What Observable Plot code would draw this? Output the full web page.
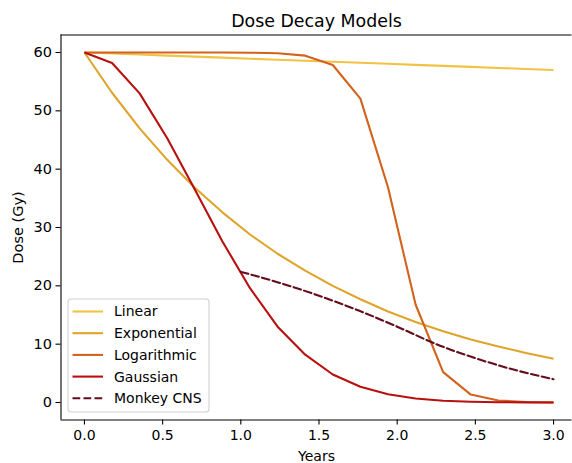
<!DOCTYPE html>
<html>
<head>
<meta charset="utf-8">
<script src="https://cdn.jsdelivr.net/npm/d3@7"></script>
<script src="https://cdn.jsdelivr.net/npm/@observablehq/plot@0.6"></script>
<style>
  body { margin: 0; background: #fff; }
  #chart svg { display: block; }
</style>
</head>
<body>
<div id="chart"></div>
<script>
// ---- data ----
const title = "Dose Decay Models";
const xLabel = "Years";
const yLabel = "Dose (Gy)";
const seriesNames = ["Linear", "Exponential", "Logarithmic", "Gaussian", "Monkey CNS"];
const seriesColors = ["#f2c244", "#dfa42a", "#d2621c", "#b80f0f", "#650c1c"];
const xTicks = [0, 0.5, 1.0, 1.5, 2.0, 2.5, 3.0];
const yTicks = [0, 10, 20, 30, 40, 50, 60];

const years = [0, 0.1765, 0.3529, 0.5294, 0.7059, 0.8824, 1.0588, 1.2353, 1.4118,
  1.5882, 1.7647, 1.9412, 2.1176, 2.2941, 2.4706, 2.6471, 2.8235, 3.0];
const linearDose = [60, 59.82, 59.65, 59.47, 59.29, 59.12, 58.94, 58.76, 58.59,
  58.41, 58.24, 58.06, 57.88, 57.71, 57.53, 57.35, 57.18, 57.0];
const exponentialDose = [60, 53.1, 47.0, 41.6, 36.8, 32.6, 28.8, 25.5, 22.6,
  20.0, 17.7, 15.6, 13.8, 12.2, 10.8, 9.6, 8.5, 7.5];
const logarithmicDose = [60, 60, 60, 60, 60, 59.99, 59.97, 59.87, 59.46,
  57.85, 52.1, 36.9, 16.8, 5.2, 1.36, 0.34, 0.08, 0.02];
const gaussianDose = [60, 58.2, 53.0, 45.3, 36.5, 27.6, 19.6, 13.0, 8.2,
  4.8, 2.7, 1.4, 0.68, 0.31, 0.13, 0.05, 0.02, 0.01];
const monkeyYears = [1.0, 1.25, 1.5, 1.75, 2.0, 2.25, 2.5, 2.75, 3.0];
const monkeyDose = [22.4, 20.5, 18.3, 15.8, 13.0, 10.0, 7.6, 5.6, 4.0];

// ---- build table ----
const rows = [];
const solid = [linearDose, exponentialDose, logarithmicDose, gaussianDose];
solid.forEach((arr, i) => arr.forEach((d, j) => rows.push({series: seriesNames[i], t: years[j], dose: d})));
const monkeyRows = monkeyYears.map((t, j) => ({series: seriesNames[4], t, dose: monkeyDose[j]}));

const font = "DejaVu Sans, Liberation Sans, sans-serif";

const chart = Plot.plot({
  width: 572,
  height: 463,
  marginLeft: 60.5,
  marginRight: 0.5,
  marginTop: 34.5,
  marginBottom: 43.5,
  style: {fontFamily: font, fontSize: "14px", color: "#000", background: "#fff", overflow: "visible"},
  x: {domain: [-0.15, 3.118]},
  y: {domain: [-3, 63]},
  color: {domain: seriesNames, range: seriesColors},
  marks: [
    Plot.ruleX([-0.15], {stroke: "#000", strokeWidth: 1.1}),
    Plot.ruleY([-3, 63], {stroke: "#000", strokeWidth: 1.1}),
    Plot.axisX({ticks: xTicks, tickFormat: d3.format(".1f"), tickSize: 5, tickPadding: 5,
      fontSize: 14, label: xLabel, labelAnchor: "center", labelArrow: "none", labelOffset: 41, strokeWidth: 1.1}),
    Plot.axisY({ticks: yTicks, tickSize: 5, tickPadding: 4, fontSize: 14.5, label: yLabel,
      labelAnchor: "center", labelArrow: "none", labelOffset: 48, strokeWidth: 1.1}),
    Plot.line(rows, {x: "t", y: "dose", z: "series", stroke: "series", strokeWidth: 2.1,
      strokeLinejoin: "round", strokeLinecap: "butt"}),
    Plot.line(monkeyRows, {x: "t", y: "dose", stroke: "series", strokeWidth: 2.1,
      strokeDasharray: "7.7,3.3", curve: "monotone-x"}),
    Plot.text([title], {frameAnchor: "top", dy: -8, fontSize: 17.4, fill: "#000", lineAnchor: "bottom"})
  ]
});

document.getElementById("chart").appendChild(chart);

// ---- legend (drawn into the same svg) ----
const svg = d3.select(chart);
const lg = svg.append("g").attr("font-family", font).attr("font-size", 14).attr("text-anchor", "start");
lg.append("rect").attr("x", 68).attr("y", 299).attr("width", 141).attr("height", 113)
  .attr("rx", 3).attr("fill", "#fff").attr("fill-opacity", 0.8).attr("stroke", "#d0d0d0").attr("stroke-width", 1.1);
seriesNames.forEach((name, i) => {
  const y = 311.5 + i * 21.7;
  lg.append("line").attr("x1", 72.5).attr("x2", 103).attr("y1", y).attr("y2", y)
    .attr("stroke", seriesColors[i]).attr("stroke-width", 2.1)
    .attr("stroke-dasharray", i === 4 ? "7.7,3.3" : null);
  lg.append("text").attr("x", 114).attr("y", y).attr("dy", "0.35em").attr("fill", "#000")
    .attr("text-anchor", "start").text(name);
});
</script>
</body>
</html>
